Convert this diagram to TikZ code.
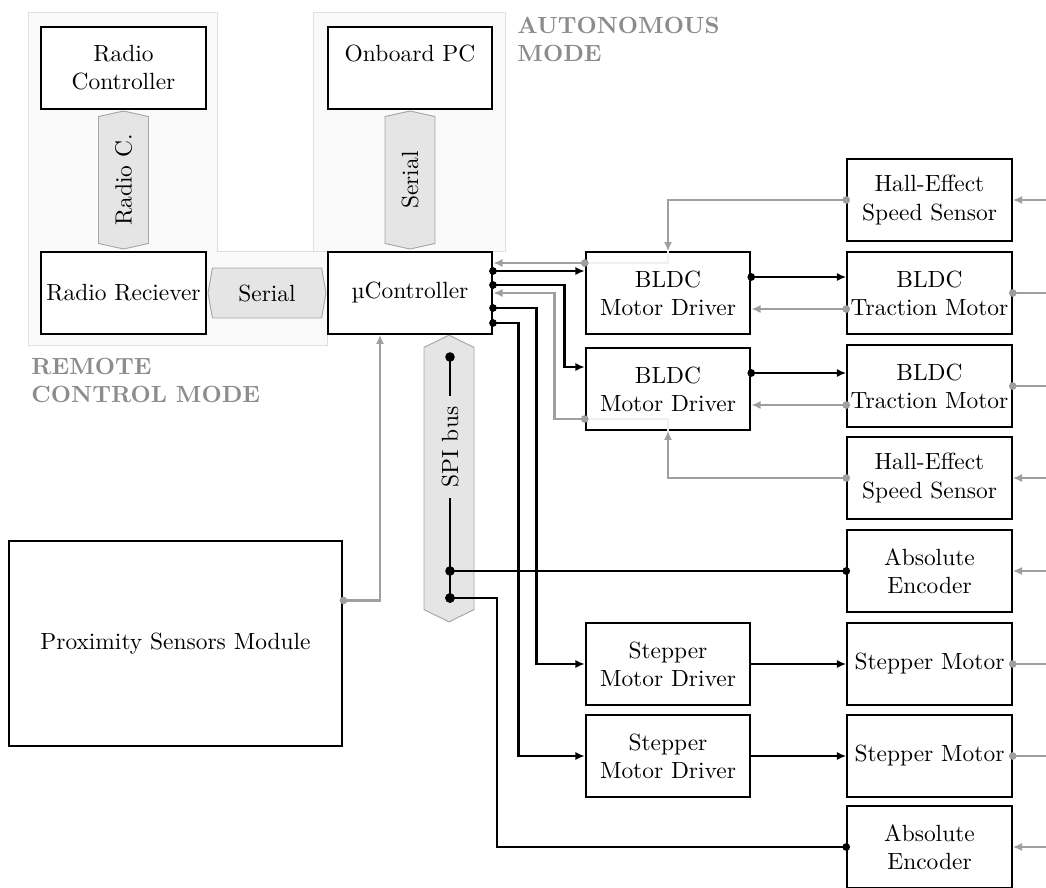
\documentclass[tikz,border=0pt]{standalone}
\usepackage{tikz}
\usetikzlibrary{arrows.meta,shapes.arrows,calc}

\tikzset{
  box/.style={draw, thick, fill=white, align=center, minimum width=2.47cm, minimum height=1.22cm, inner sep=1pt},
  pipe/.style={double arrow, draw=gray!70, fill=gray!20, double arrow head extend=0pt, minimum width=0.75cm, inner sep=2pt, double arrow tip angle=155},
  grp/.style={draw=gray!25, fill=gray!4},
  grplabel/.style={anchor=north west, align=left, inner sep=0pt, text=black!45, font=\bfseries},
  wire/.style={line width=1.2pt},
  gwire/.style={draw=gray!75},
  faint/.style={wire, draw=gray!12},
  dotarrow/.style={wire, {Circle[length=3.2pt]}-{Latex[length=4pt,width=3.5pt]}, shorten <=-1.6pt},
  dotdot/.style={wire, {Circle[length=4pt]}-{Circle[length=3.2pt]}, shorten <=-2pt, shorten >=-1.6pt},
  inarrow/.style={wire, gwire, -{Latex[length=4pt,width=3.5pt]}},
  outdot/.style={wire, gwire, {Circle[length=3.2pt]}-, shorten <=-1.6pt},
}

\begin{document}
\begin{tikzpicture}[x=0.015cm, y=-0.015cm]
        \useasboundingbox (0,0) rectangle (1046,888);

        %% Mode groups
        \draw [grp] (28,12) -- (217,12) -- (217,251) -- (327,251) -- (327,345) -- (28,345) -- cycle;
        \draw [grp] (313,12) rectangle (505,251);
        \node [grplabel] (remlbl) at (31,358) {REMOTE\\CONTROL MODE};
        \node [grplabel] (autlbl) at (517,17) {AUTONOMOUS\\MODE};

        %% Control side
        \node [box] (rc) at (123.5,68) {Radio\\Controller};
        \node [box] (rr) at (123.5,293) {Radio Reciever};
        \node [box] (pc) at (410,68) {Onboard PC\\\phantom{C}};
        \node [box] (mc) at (410,293) {µController};
        \node [box, line width=1.1pt, minimum width=5cm, minimum height=3.08cm] (prox) at (175.5,643.5) {Proximity Sensors Module};

        %% Links
        \node [pipe, rotate=90, minimum height=2.07cm] (radiolink) at (123.5,180) {Radio C.};
        \node [pipe, rotate=90, minimum height=2.07cm] (pclink) at (410,180) {Serial};
        \node [pipe, minimum height=1.77cm, double arrow tip angle=160] (rrlink) at (267,293) {Serial};
        \node [pipe, rotate=90, minimum height=4.3cm, double arrow tip angle=128] (spi) at (449,478.5) {};

        %% Drivers
        \node [box] (drv1) at (668,293) {BLDC\\Motor Driver};
        \node [box] (drv2) at (668,389) {BLDC\\Motor Driver};
        \node [box] (sdrv1) at (668,664) {Stepper\\Motor Driver};
        \node [box] (sdrv2) at (668,756) {Stepper\\Motor Driver};

        %% Motors and sensors
        \node [box] (hall1) at (929.5,200) {Hall-Effect\\Speed Sensor};
        \node [box] (tm1) at (929.5,293) {BLDC\\Traction Motor};
        \node [box] (tm2) at (929.5,386) {BLDC\\Traction Motor};
        \node [box] (hall2) at (929.5,478) {Hall-Effect\\Speed Sensor};
        \node [box] (enc1) at (929.5,571) {Absolute\\Encoder};
        \node [box] (stm1) at (929.5,664) {Stepper Motor};
        \node [box] (stm2) at (929.5,756) {Stepper Motor};
        \node [box] (enc2) at (929.5,847) {Absolute\\Encoder};

        %% Ports
        \coordinate (mco1) at (493,271);
        \coordinate (mco2) at (493,285);
        \coordinate (mco3) at (493,308);
        \coordinate (mco4) at (493,323);
        \coordinate (drv1o) at ($(drv1.east)+(0,-16)$);
        \coordinate (drv2o) at ($(drv2.east)+(0,-16)$);
        \coordinate (tm1i) at ($(tm1.west)+(0,16)$);
        \coordinate (tm2i) at ($(tm2.west)+(0,19)$);
        \coordinate (drv1i) at ($(drv1.west)+(0,-30)$);
        \coordinate (drv2i) at ($(drv2.west)+(0,30)$);
        \coordinate (proxo) at ($(prox.east)+(0,-43)$);
        \coordinate (edge) at (1046,0);

        %% SPI bus
        \node [rotate=90, inner sep=4.5pt] (spitext) at (450,447) {SPI bus};
        \coordinate (spitop) at (450,357);
        \coordinate (spienc1) at (450,571);
        \coordinate (spienc2) at (450,598);
        \draw [wire, {Circle[length=4pt]}-, shorten <=-2pt] (spitop) -- (spitext.east);
        \draw [wire, -{Circle[length=4pt]}, shorten >=-2pt] (spitext.west) -- (spienc2);
        \draw [dotdot] (spienc1) -- (enc1.west);
        \draw [dotdot] (spienc2) -- ++(47,0) |- (enc2.west);

        %% Commands from the controller
        \draw [dotarrow] (mco1) -- (drv1.west |- mco1);
        \draw [dotarrow] (mco2) -| ($(drv2.west)+(-20,-22)$) -- ($(drv2.west)+(0,-22)$);
        \draw [dotarrow] (mco3) -| ($(sdrv1.west)+(-48,0)$) -- (sdrv1.west);
        \draw [dotarrow] (mco4) -| ($(sdrv2.west)+(-66,0)$) -- (sdrv2.west);

        %% Drivers to motors
        \draw [dotarrow] (drv1o) -- (tm1.west |- drv1o);
        \draw [dotarrow] (drv2o) -- (tm2.west |- drv2o);
        \draw [wire, -{Latex[length=4pt,width=3.5pt]}] (sdrv1.east) -- (stm1.west);
        \draw [wire, -{Latex[length=4pt,width=3.5pt]}] (sdrv2.east) -- (stm2.west);

        %% Feedback
        \draw [faint] (drv1.north) |- (drv1i);
        \draw [faint] (drv2.south) |- (drv2i);
        \draw [dotarrow, gwire] (tm1i) -- (drv1.east |- tm1i);
        \draw [dotarrow, gwire] (tm2i) -- (drv2.east |- tm2i);
        \draw [dotarrow, gwire] (hall1.west) -| (drv1.north);
        \draw [dotarrow, gwire] (hall2.west) -| (drv2.south);
        \draw [dotarrow, gwire] (drv1i) -- (mc.east |- drv1i);
        \draw [dotarrow, gwire] (drv2i) -- ++(-30,0) |- (mc.east);
        \draw [dotarrow, gwire] (proxo) -| ($(mc.south)+(-30,0)$);

        %% Off the edge
        \draw [inarrow] (hall1.east -| edge) -- (hall1.east);
        \draw [outdot] (tm1.east) -- (tm1.east -| edge);
        \draw [outdot] (tm2.east) -- (tm2.east -| edge);
        \draw [inarrow] (hall2.east -| edge) -- (hall2.east);
        \draw [inarrow] (enc1.east -| edge) -- (enc1.east);
        \draw [outdot] (stm1.east) -- (stm1.east -| edge);
        \draw [outdot] (stm2.east) -- (stm2.east -| edge);
        \draw [inarrow] (enc2.east -| edge) -- (enc2.east);
\end{tikzpicture}
\end{document}
